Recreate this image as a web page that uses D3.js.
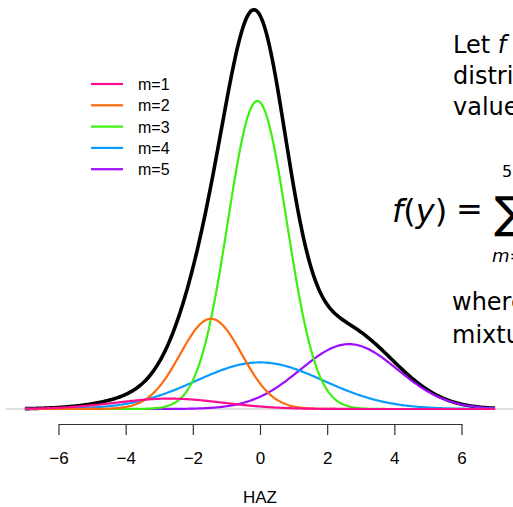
<!DOCTYPE html>
<html>
<head>
<meta charset="utf-8">
<script src="https://cdn.jsdelivr.net/npm/d3@7"></script>
<style>
  html, body { margin: 0; padding: 0; overflow: hidden; background: #fff; }
  svg { display: block; }
</style>
</head>
<body>
<svg id="chart"></svg>
<script>
// mixture components
const labels = ["m=1", "m=2", "m=3", "m=4", "m=5"];
const weights = [0.03, 0.15, 0.49, 0.16, 0.17];
const means = [-2.7, -1.46, -0.08, 0.0, 2.65];
const sds = [1.6, 0.92, 0.88, 1.9, 1.45];
const xTicks = [-6, -4, -2, 0, 2, 4, 6];
const xLabel = "HAZ";

const colors = ["#ff0d8f", "#ff6a0a", "#3cf00f", "#0a9bff", "#a00bff"];

const W = 513, H = 507;
const svg = d3.select("#chart").attr("width", W).attr("height", H);

const x = d3.scaleLinear().domain([-6, 6]).range([58.5, 461.5]);
const y = d3.scaleLinear().domain([0, 0.3]).range([409, -7]);

const normal = (v, m, s) => Math.exp(-0.5 * ((v - m) / s) ** 2) / (s * Math.sqrt(2 * Math.PI));
const grid = d3.range(-7, 7.0001, 0.04);

const comp = labels.map((lab, i) => grid.map(v => [v, weights[i] * normal(v, means[i], sds[i])]));
const total = grid.map((v, j) => [v, d3.sum(comp, c => c[j][1])]);

const line = d3.line().x(d => x(d[0])).y(d => y(d[1]));

// zero line
svg.append("line")
  .attr("x1", 6).attr("x2", W)
  .attr("y1", y(0)).attr("y2", y(0))
  .attr("stroke", "#bebebe").attr("stroke-width", 1);

svg.append("path").datum(total)
  .attr("d", line).attr("fill", "none")
  .attr("stroke", "#000").attr("stroke-width", 3.6);

for (let i = comp.length - 1; i >= 0; i--) {
  svg.append("path").datum(comp[i])
    .attr("d", line).attr("fill", "none")
    .attr("stroke", colors[i]).attr("stroke-width", 2.2);
}

// x axis
const sans = "Liberation Sans, Arial, sans-serif";
const axis = svg.append("g")
  .attr("transform", "translate(0,424)")
  .call(d3.axisBottom(x).tickValues(xTicks).tickSize(11).tickSizeOuter(0)
    .tickFormat(d => d < 0 ? "\u2212" + Math.abs(d) : d));
axis.select(".domain").attr("stroke", "#333").attr("stroke-width", 1.2);
axis.selectAll(".tick line").attr("stroke", "#333").attr("stroke-width", 1.2);
axis.selectAll(".tick text")
  .attr("y", 40).attr("dy", 0)
  .attr("font-family", sans)
  .attr("font-size", 17).attr("fill", "#000");

svg.append("text")
  .attr("x", x(0)).attr("y", 503)
  .attr("text-anchor", "middle")
  .attr("font-family", sans)
  .attr("font-size", 17)
  .text(xLabel);

// legend
const legend = svg.append("g").attr("transform", "translate(91,84)");
labels.forEach((lab, i) => {
  const g = legend.append("g").attr("transform", `translate(0,${i * 21.3})`);
  g.append("line").attr("x1", 0).attr("x2", 32)
    .attr("stroke", colors[i]).attr("stroke-width", 2.2);
  g.append("text").attr("x", 47).attr("y", 6)
    .attr("font-family", sans)
    .attr("font-size", 16).text(lab);
});

// slide text on the right
const tf = "DejaVu Sans, Noto Sans, sans-serif";
const t1 = svg.append("text").attr("x", 453).attr("y", 53)
  .attr("font-family", tf).attr("font-size", 24);
t1.append("tspan").text("Let ");
t1.append("tspan").attr("font-style", "italic").text("f");
t1.append("tspan").text(" be the");
svg.append("text").attr("x", 453).attr("y", 84)
  .attr("font-family", tf).attr("font-size", 24).text("distribution");
svg.append("text").attr("x", 453).attr("y", 115)
  .attr("font-family", tf).attr("font-size", 24).text("values");

const eq = svg.append("text").attr("x", 392).attr("y", 222)
  .attr("font-family", tf).attr("font-size", 32);
eq.append("tspan").attr("font-style", "italic").text("f");
eq.append("tspan").text("(");
eq.append("tspan").attr("font-style", "italic").text("y");
eq.append("tspan").text(")");
svg.append("text").attr("x", 456).attr("y", 220)
  .attr("font-family", tf).attr("font-size", 32).text("=");
svg.append("text").attr("x", 494).attr("y", 228)
  .attr("font-family", tf).attr("font-size", 44).text("\u2211");
svg.append("text").attr("x", 502).attr("y", 177)
  .attr("font-family", tf).attr("font-size", 16).text("5");
svg.append("text").attr("x", 492).attr("y", 262)
  .attr("font-family", tf).attr("font-size", 18).attr("font-style", "italic").text("m=1");

svg.append("text").attr("x", 452).attr("y", 310)
  .attr("font-family", tf).attr("font-size", 24).text("where");
svg.append("text").attr("x", 452).attr("y", 343)
  .attr("font-family", tf).attr("font-size", 24).text("mixture");
</script>
</body>
</html>
